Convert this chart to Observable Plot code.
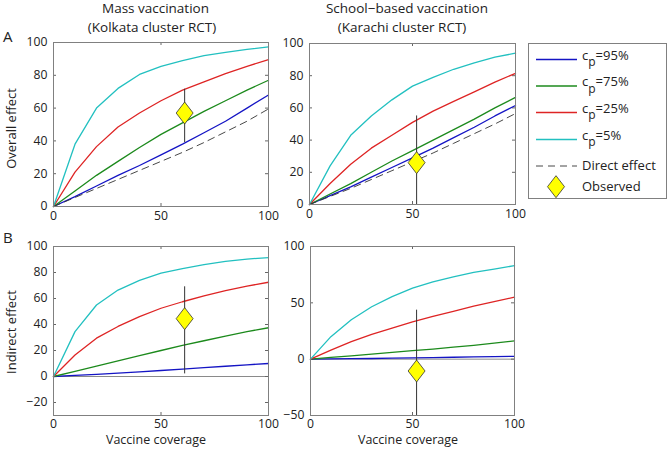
<!DOCTYPE html>
<html><head><meta charset="utf-8">
<script src="https://cdn.jsdelivr.net/npm/d3@7"></script>
<script src="https://cdn.jsdelivr.net/npm/@observablehq/plot@0.6"></script>
<style>
body{margin:0;background:#fff;}
#root{position:relative;width:670px;height:455px;overflow:hidden;font-family:"Open Sans",sans-serif;}
#root svg{position:absolute;}
</style>
</head><body><div id="root"></div>
<script>
// ---- data ----
const coverage = [0, 10, 20, 30, 40, 50, 60, 70, 80, 90, 100];
const seriesNames = ["cp95", "cp75", "cp25", "cp5"];
const seriesLabels = ["=95%", "=75%", "=25%", "=5%"];
const seriesColors = ["#1414c4", "#1c8a1c", "#de2424", "#22c0c0"];

// Kolkata (mass vaccination) - overall effect
const kolOverall95 = [0, 6, 12.5, 19, 25, 31.5, 38, 45, 52, 60, 68];
const kolOverall75 = [0, 9.5, 19, 27.5, 36, 44, 51, 58, 64.5, 71, 77];
const kolOverall25 = [0, 21, 36.5, 48.5, 57, 64.5, 71, 76, 81, 85.5, 89.5];
const kolOverall5  = [0, 38, 60, 72, 80.5, 85.5, 89, 92, 94, 95.8, 97.3];
const kolDirect    = [0, 5.5, 11, 16.5, 22, 27.5, 33, 39, 45.5, 52, 59.5];
const kolOverallObs = {x: 61, y: 57, lo: 39, hi: 71.5};

// Karachi (school-based) - overall effect
const karOverall95 = [0, 5.5, 11, 17, 23, 29, 35, 41.5, 48, 55, 61.5];
const karOverall75 = [0, 6.5, 13, 20, 27, 33.5, 40, 46.5, 53, 60, 66.5];
const karOverall25 = [0, 13, 25, 35, 43, 51, 58, 64, 70, 76, 81.5];
const karOverall5  = [0, 24, 43, 55, 65, 73.5, 79, 84, 88, 91.5, 94];
const karDirect    = [0, 5, 10, 15.5, 21, 26.5, 32, 38, 44, 50, 56.5];
const karOverallObs = {x: 52, y: 26, lo: 0, hi: 55};

// Kolkata - indirect effect
const kolIndirect95 = [0, 0.8, 1.7, 2.6, 3.6, 4.6, 5.7, 6.8, 7.9, 9, 10];
const kolIndirect75 = [0, 4, 8, 12, 16, 20, 24, 27.5, 31, 34.5, 37.5];
const kolIndirect25 = [0, 16.5, 29.5, 38.5, 46, 52.5, 57.5, 62, 66, 69.5, 72.5];
const kolIndirect5  = [0, 34.5, 55, 66.5, 74, 79.5, 83, 86, 88.5, 90.3, 91.5];
const kolIndirectObs = {x: 61, y: 44.5, lo: 2, hi: 69};

// Karachi - indirect effect
const karIndirect95 = [0, 0.2, 0.4, 0.6, 0.9, 1.1, 1.4, 1.7, 2, 2.2, 2.5];
const karIndirect75 = [0, 1.5, 3, 4.5, 6, 7.5, 9, 10.7, 12.3, 14.2, 16.3];
const karIndirect25 = [0, 8, 15.5, 22, 27.5, 33, 38, 42.5, 47, 51, 55];
const karIndirect5  = [0, 20, 35, 46.5, 55.5, 63, 68.5, 73, 77, 80, 83];
const karIndirectObs = {x: 52, y: -10.5, lo: -50, hi: 43.5};

const xTicks = [0, 50, 100];
const yTicksOverall = [0, 20, 40, 60, 80, 100];
const yTicksKolInd = [-20, 0, 20, 40, 60, 80, 100];
const yTicksKarInd = [-50, 0, 50, 100];

// ---- drawing ----
const FONT = "'Open Sans', sans-serif";
const tallDiamond = {
  draw(ctx, size) {
    const r = Math.sqrt(size / Math.PI), w = r * 0.77;
    ctx.moveTo(0, -r); ctx.lineTo(w, 0); ctx.lineTo(0, r); ctx.lineTo(-w, 0); ctx.closePath();
  }
};
const toRows = (vals) => coverage.map((c, i) => ({x: c, y: vals[i]}));

function panel({left, top, fw, fh, yDomain, yTicks, series, direct, obs, zero, xPad}) {
  const mL = 50, mR = 20, mT = 10, mB = 25;
  const marks = [];
  if (zero) marks.push(Plot.ruleY([0], {stroke: "#8a8a8a", strokeWidth: 1}));
  marks.push(
    Plot.tickX(xTicks, {x: d => d, insetTop: fh - 3, stroke: "#666"}),
    Plot.tickX(xTicks, {x: d => d, insetBottom: fh - 3, stroke: "#666"}),
    Plot.tickY(yTicks, {y: d => d, insetRight: fw - 3, stroke: "#666"}),
    Plot.tickY(yTicks, {y: d => d, insetLeft: fw - 3, stroke: "#666"}),
    Plot.axisX({ticks: xTicks, tickSize: 0, tickPadding: xPad, fontSize: 12.2, label: null, fill: "#222"}),
    Plot.axisY({ticks: yTicks, tickSize: 0, tickPadding: 6, fontSize: 12.2, label: null, fill: "#222"})
  );
  series.forEach((vals, i) => marks.push(
    Plot.line(toRows(vals), {x: "x", y: "y", stroke: seriesColors[i], strokeWidth: 1.3})
  ));
  if (direct) marks.push(Plot.line(toRows(direct), {x: "x", y: "y", stroke: "#333", strokeWidth: 0.9, strokeDasharray: "7,5"}));
  marks.push(
    Plot.ruleX([obs], {x: "x", y1: "lo", y2: "hi", stroke: "#333", strokeWidth: 1}),
    Plot.dot([obs], {x: "x", y: "y", symbol: tallDiamond, r: 11, fill: "#ffff00", stroke: "#333", strokeWidth: 0.8}),
    Plot.frame({stroke: "#808080"})
  );
  const svg = Plot.plot({
    width: fw + mL + mR, height: fh + mT + mB,
    marginLeft: mL, marginRight: mR, marginTop: mT, marginBottom: mB,
    x: {domain: [0, 100]}, y: {domain: yDomain},
    style: {background: "transparent", overflow: "visible", fontFamily: FONT, fontSize: "12.2px"},
    marks
  });
  svg.style.left = (left - mL) + "px";
  svg.style.top = (top - mT) + "px";
  document.getElementById("root").appendChild(svg);
}

panel({left: 53, top: 42, fw: 215, fh: 164, yDomain: [0, 100], yTicks: yTicksOverall, xPad: 5,
  series: [kolOverall95, kolOverall75, kolOverall25, kolOverall5], direct: kolDirect, obs: kolOverallObs});
panel({left: 309, top: 43, fw: 206, fh: 161, yDomain: [0, 100], yTicks: yTicksOverall, xPad: 5,
  series: [karOverall95, karOverall75, karOverall25, karOverall5], direct: karDirect, obs: karOverallObs});
panel({left: 53, top: 246, fw: 215, fh: 169, yDomain: [-30, 100], yTicks: yTicksKolInd, xPad: 3.5,
  series: [kolIndirect95, kolIndirect75, kolIndirect25, kolIndirect5], obs: kolIndirectObs, zero: true});
panel({left: 310, top: 246, fw: 204, fh: 169, yDomain: [-50, 100], yTicks: yTicksKarInd, xPad: 3.5,
  series: [karIndirect95, karIndirect75, karIndirect25, karIndirect5], obs: karIndirectObs, zero: true});

// ---- overlay text & legend ----
const ns = "http://www.w3.org/2000/svg";
const ov = document.createElementNS(ns, "svg");
ov.setAttribute("width", 670); ov.setAttribute("height", 455);
ov.style.left = "0px"; ov.style.top = "0px";
ov.style.fontFamily = FONT;
function txt(x, y, s, opts = {}) {
  const t = document.createElementNS(ns, "text");
  t.setAttribute("x", x); t.setAttribute("y", y);
  t.setAttribute("font-size", opts.size || 13);
  t.setAttribute("fill", "#222");
  if (opts.anchor) t.setAttribute("text-anchor", opts.anchor);
  if (opts.rotate) t.setAttribute("transform", `rotate(-90 ${x} ${y})`);
  t.textContent = s;
  ov.appendChild(t);
  return t;
}
txt(155.5, 13, "Mass vaccination", {size: 13.5, anchor: "middle"});
txt(152, 31.5, "(Kolkata cluster RCT)", {size: 13.5, anchor: "middle"});
txt(407, 13, "School\u2212based vaccination", {size: 13.5, anchor: "middle"});
txt(402, 31.5, "(Karachi cluster RCT)", {size: 13.5, anchor: "middle"});
txt(3, 41.5, "A", {size: 15});
txt(3, 243, "B", {size: 15});
txt(15.5, 128.5, "Overall effect", {size: 13, anchor: "middle", rotate: true});
txt(15.5, 332, "Indirect effect", {size: 13, anchor: "middle", rotate: true});
txt(156, 444, "Vaccine coverage", {size: 12.5, anchor: "middle"});
txt(408, 444, "Vaccine coverage", {size: 12.5, anchor: "middle"});

// legend
const box = document.createElementNS(ns, "rect");
box.setAttribute("x", 528.5); box.setAttribute("y", 43.5);
box.setAttribute("width", 138); box.setAttribute("height", 155);
box.setAttribute("fill", "white"); box.setAttribute("stroke", "#808080");
ov.appendChild(box);
function line(x1, y1, x2, y2, stroke, w, dash) {
  const l = document.createElementNS(ns, "line");
  l.setAttribute("x1", x1); l.setAttribute("y1", y1); l.setAttribute("x2", x2); l.setAttribute("y2", y2);
  l.setAttribute("stroke", stroke); l.setAttribute("stroke-width", w);
  if (dash) l.setAttribute("stroke-dasharray", dash);
  ov.appendChild(l);
}
const rowY = [59.5, 86, 112.5, 139.5];
seriesNames.forEach((n, i) => {
  line(536, rowY[i], 577, rowY[i], seriesColors[i], 1.3);
  const t = txt(582, rowY[i], "c", {size: 13});
  const sub = document.createElementNS(ns, "tspan");
  sub.setAttribute("dy", 6.5); sub.setAttribute("font-size", 12); sub.textContent = "p";
  t.appendChild(sub);
  const rest = document.createElementNS(ns, "tspan");
  rest.setAttribute("dy", -6.5); rest.textContent = seriesLabels[i];
  t.appendChild(rest);
});
line(536, 166, 577, 166, "#333", 0.9, "7,5");
txt(582, 170, "Direct effect", {size: 13});
const dia = document.createElementNS(ns, "path");
dia.setAttribute("d", "M556,175.7 L564.5,186.7 L556,197.7 L547.5,186.7 Z");
dia.setAttribute("fill", "#ffff00"); dia.setAttribute("stroke", "#333"); dia.setAttribute("stroke-width", 0.8);
ov.appendChild(dia);
txt(582, 191, "Observed", {size: 13});
document.getElementById("root").appendChild(ov);
</script>
</body></html>
